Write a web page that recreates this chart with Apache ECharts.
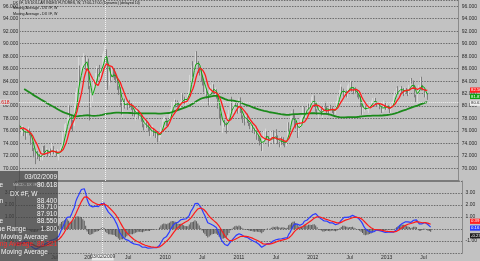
<!DOCTYPE html>
<html><head><meta charset="utf-8">
<script src="https://cdn.jsdelivr.net/npm/echarts@6/dist/echarts.min.js"></script>
<style>html,body{margin:0;padding:0;background:#c2c2c2;overflow:hidden}#c{width:480px;height:261px}</style>
</head><body><div id="c"></div>
<script>
// ---- data (weekly DX #F closes / highs / lows) ----
const historyCloses = [89.2,90.0,89.6,89.0,88.9,88.2,86.8,86.0,84.8,84.9,85.8,85.4,85.5,86.9,86.8,87.0,85.3,85.2,85.4,85.6,85.2,84.8,85.4,85.0,85.1,85.4,85.5,85.6,85.5,85.8,86.2,86.6,86.9,85.4,85.0,85.5,84.2,83.5,82.9,83.2,84.0,83.9,83.7,
84.8,84.8,84.9,84.6,84.0,84.6,84.2,83.7,83.8,83.5,83.3,83.2,82.8,82.4,81.9,81.8,81.5,81.4,81.8,81.9,82.2,82.6,82.8,82.2,81.8,81.8,81.3,80.7,80.5,80.6,80.7,81.6,81.2,81.1,80.8,79.9,79.1,78.6,78.0,78.2,78.8,77.6,77.5,76.5,75.9,76.2,75.3,75.7,76.2,76.5,77.5,77.4,76.7];

const closes = [
75.8,75.9,76.2,75.7,75.3,76.1,76.2,75.6,73.9,73.2,72.4,72.1,72.3,71.9,71.6,71.8,73.2,72.9,72.8,72.8,72.3,72.9,72.3,73.5,72.5,72.6,72.2,72.3,72.6,73.2,73.4,75.7,76.6,76.8,77.7,79.4,78.4,77.4,77.0,79.9,81.9,82.4,86.1,85.4,85.8,87.0,87.9,86.3,87.2,82.9,80.0,81.8,
82.3,84.1,84.3,85.6,85.5,85.2,85.9,87.6,88.4,88.55,87.5,83.7,85.0,84.6,85.3,85.1,84.6,84.3,82.9,82.6,80.6,79.5,80.9,80.0,80.3,80.1,80.4,80.3,79.6,78.9,78.6,78.9,78.9,78.3,78.3,77.8,76.8,76.6,77.1,77.0,76.4,75.6,75.6,76.3,75.9,75.4,75.4,74.9,75.1,76.5,77.8,77.9,
77.9,77.2,77.0,78.4,79.4,80.4,80.4,80.5,80.4,80.3,79.6,80.6,81.8,81.1,80.8,80.9,81.4,81.9,84.4,86.2,85.5,86.7,88.3,86.9,85.7,85.2,84.1,83.6,82.5,82.5,81.3,80.5,82.6,83.0,83.0,82.2,82.5,81.5,79.8,78.2,77.1,77.1,77.4,77.0,76.3,78.3,78.9,80.3,79.6,80.1,80.5,80.3,79.0,
80.9,79.2,78.2,77.8,77.7,78.5,77.5,77.1,76.6,76.9,75.9,75.8,76.0,74.9,74.8,74.1,72.9,74.6,75.6,75.6,75.0,73.6,74.6,75.2,75.5,74.3,75.3,75.1,74.1,73.7,74.7,74.6,74.0,73.8,74.4,77.2,76.6,78.2,78.6,78.5,77.0,76.8,75.2,77.1,77.2,78.1,79.9,78.5,78.8,80.2,80.0,80.2,
81.2,81.6,80.4,79.3,78.9,79.0,79.3,78.6,79.3,79.9,79.7,79.3,78.9,79.9,79.7,79.1,78.8,79.6,80.7,81.6,82.3,83.0,82.5,81.6,82.3,81.6,83.2,83.3,83.6,82.6,82.4,82.5,82.3,81.5,81.2,80.2,79.0,79.3,79.9,79.6,79.7,79.8,80.1,80.7,81.0,81.2,80.3,80.1,80.3,79.6,79.3,79.6,
80.5,79.6,80.0,79.8,79.1,80.2,80.5,81.5,82.2,82.7,82.4,82.6,83.0,82.5,82.1,82.6,82.4,82.0,83.3,84.2,83.8,83.2,81.6,80.9,82.3,83.2,84.3,83.2,82.7,81.7,81.9,81.2];

const highs = [
77.0,76.5,76.9,76.6,76.0,76.4,76.7,76.4,75.7,74.3,73.3,72.8,72.9,72.8,72.3,72.3,73.4,73.6,73.7,73.3,73.0,73.2,73.2,74.1,73.6,73.1,72.9,73.1,72.9,73.5,73.7,75.9,77.1,77.3,78.2,80.2,80.1,78.7,77.8,80.3,82.3,82.9,87.9,86.5,86.5,87.9,88.5,88.1,87.9,87.6,83.2,82.1,
82.5,84.5,85.3,86.4,86.1,86.6,86.0,88.4,88.8,89.71,89.1,87.8,85.7,86.2,86.1,86.0,86.0,85.3,84.6,83.2,83.0,81.1,81.0,81.2,81.0,80.7,80.8,81.0,80.6,79.8,79.4,79.3,79.8,79.4,79.1,78.8,78.0,77.1,77.6,77.8,77.2,76.6,76.0,76.9,76.5,76.1,75.7,75.6,75.5,76.6,77.9,78.2,
78.4,78.1,77.7,78.7,79.5,80.6,80.7,81.2,81.0,80.9,80.6,80.8,82.1,81.9,81.5,81.4,81.9,82.5,85.0,86.5,87.2,87.1,88.7,88.8,87.2,86.2,86.1,84.8,83.9,83.1,82.8,81.6,82.9,83.4,83.7,83.5,83.0,82.7,81.7,80.0,78.8,77.7,77.9,77.8,77.4,78.7,79.4,80.9,81.5,80.5,80.9,80.9,80.5,
81.2,81.4,79.3,78.5,78.3,78.6,78.8,77.8,77.3,77.2,77.0,76.4,76.4,76.1,75.3,75.0,74.2,74.8,76.0,76.4,76.0,75.2,74.9,76.0,75.9,76.1,75.7,76.3,75.3,74.3,75.2,75.1,75.0,74.3,74.6,77.4,77.4,78.9,79.2,79.5,78.7,77.6,77.1,77.5,78.2,78.5,80.0,79.8,79.3,80.5,80.4,80.6,
81.5,81.8,81.7,80.5,79.5,79.4,79.8,79.6,79.5,80.1,80.7,80.0,79.5,80.1,80.2,79.8,79.3,79.8,80.8,81.7,82.6,83.5,83.1,82.8,82.5,82.5,83.3,83.6,84.1,84.0,83.0,82.9,83.0,82.6,82.0,81.6,80.4,79.7,80.2,80.1,80.1,80.1,80.3,80.9,81.3,81.4,81.3,80.6,80.6,80.5,79.8,79.8,
80.9,80.7,80.5,80.1,80.0,80.4,80.8,81.7,82.4,82.9,83.2,83.0,83.1,83.2,82.9,83.0,82.9,82.6,83.4,84.4,84.5,84.1,83.4,81.8,82.4,83.4,84.6,84.7,83.4,82.7,82.2,82.0];

const lows = [
75.6,75.2,75.6,75.2,74.6,75.1,75.8,75.3,73.8,72.8,71.8,70.7,71.7,71.5,71.2,71.3,71.3,72.6,72.2,72.4,71.9,72.0,72.1,72.1,72.3,72.2,71.9,71.9,71.3,72.4,72.9,73.2,75.6,76.0,76.5,77.6,78.2,76.3,75.9,76.8,79.7,80.8,82.2,83.6,84.6,85.6,86.4,85.8,85.7,82.7,77.7,79.8,
80.7,81.8,83.3,83.9,84.0,84.7,84.3,85.9,86.7,87.91,86.9,82.6,83.3,83.8,84.2,84.6,84.2,83.7,82.6,81.8,80.1,78.6,78.3,79.6,79.8,79.4,79.8,79.7,79.4,78.4,78.3,77.7,78.5,77.9,77.9,77.5,76.6,76.1,76.3,76.5,75.9,75.2,75.0,75.3,75.2,74.9,74.9,74.2,74.4,75.0,76.2,77.5,
77.4,76.8,76.8,76.9,77.9,78.9,79.6,79.9,79.8,79.8,79.4,79.4,80.4,80.9,80.3,80.1,80.7,81.2,81.6,83.7,84.7,85.3,86.3,86.7,85.3,84.9,83.9,83.3,82.2,81.8,81.2,80.1,80.2,82.1,82.5,81.9,81.5,81.2,79.6,78.0,76.9,75.7,76.5,76.7,75.6,76.1,78.0,78.7,79.2,78.9,79.6,80.0,78.8,
78.9,78.9,77.9,77.3,76.9,77.5,77.3,76.8,76.3,76.2,75.7,75.5,75.4,74.6,74.4,73.7,72.8,72.7,74.2,75.2,74.7,73.5,73.5,74.3,74.0,74.1,74.0,74.6,73.9,73.4,73.4,73.8,73.7,73.4,73.6,74.3,75.9,76.4,77.9,78.0,76.8,76.4,74.9,75.1,76.6,76.9,77.9,78.1,78.1,78.6,79.5,79.8,
79.9,80.9,80.2,79.1,78.6,78.1,78.8,78.5,78.1,79.0,79.3,78.9,78.5,78.8,79.4,78.9,78.6,78.7,79.5,80.5,81.4,82.2,81.9,81.5,81.4,81.4,81.3,82.6,82.9,82.3,81.9,82.0,82.1,81.4,81.1,80.0,78.6,78.6,79.1,79.4,79.3,78.9,79.5,79.9,80.5,80.8,80.2,79.9,79.9,79.5,78.9,79.1,
79.1,79.4,79.3,79.5,78.9,78.9,79.9,80.4,81.4,81.9,82.1,82.0,82.3,82.1,81.6,81.9,82.0,81.6,81.8,83.0,83.6,82.9,81.4,80.5,80.7,82.2,82.9,82.5,82.5,81.4,81.4,81.0];

const xTickDates  = ['07/07/2008','12/29/2008','07/06/2009','01/04/2010','07/05/2010','01/03/2011','07/04/2011','01/02/2012','07/02/2012','12/31/2012','07/01/2013'];
const xTickLabels = ['Jul','2009','Jul','2010','Jul','2011','Jul','2012','Jul','2013','Jul'];
const priceTicks = {min: 68, max: 97, interval: 2};
const macdTicks = {min: -2, max: 4, interval: 1};
const cursorDate = '03/02/2009';
const cursorPrice = 80.618;
const infoRows = ['88.400','89.710','87.910','88.550','1.800','86.321'];
const maPeriods = {fast: 4, mid: 8, slow: 100};
const nSlots = 315;

// ---- build ----
const categories = [];
for (let i = 0; i < nSlots; i++) {
  const d = new Date(Date.UTC(2007, 11, 31 + 7 * i));
  const mm = String(d.getUTCMonth() + 1).padStart(2, '0');
  const dd = String(d.getUTCDate()).padStart(2, '0');
  categories.push(mm + '/' + dd + '/' + d.getUTCFullYear());
}
const tickMap = {};
xTickDates.forEach((d, i) => tickMap[d] = xTickLabels[i]);

const full = historyCloses.concat(closes);
const H = historyCloses.length;
const candle = closes.map((c, i) => {
  const o = i === 0 ? historyCloses[H - 1] : closes[i - 1];
  return [o, c, Math.min(lows[i], o, c), Math.max(highs[i], o, c)];
});
function sma(p) {
  return closes.map((_, i) => {
    const e = H + i, s = e - p + 1;
    if (s < 0) return null;
    let t = 0; for (let k = s; k <= e; k++) t += full[k];
    return +(t / p).toFixed(4);
  });
}
function emaArr(arr, p) {
  const a = 2 / (p + 1); const out = []; let v = arr[0];
  arr.forEach((x, i) => { v = i === 0 ? x : v + a * (x - v); out.push(v); });
  return out;
}
const maFast = sma(maPeriods.fast), maMid = sma(maPeriods.mid), maSlow = sma(maPeriods.slow);
const e12 = emaArr(full, 12), e26 = emaArr(full, 26);
const macdFull = full.map((_, i) => e12[i] - e26[i]);
const sigFull = emaArr(macdFull, 9);
const macd = closes.map((_, i) => +macdFull[H + i].toFixed(4));
const signal = closes.map((_, i) => +sigFull[H + i].toFixed(4));
const hist = closes.map((_, i) => +(macdFull[H + i] - sigFull[H + i]).toFixed(4));

const FONT = '"Liberation Sans", Arial, sans-serif';
const chart = echarts.init(document.getElementById('c'), null, {renderer: 'canvas'});
const grid = '#6c6c6c';
const cursorLine = {color: '#f2f2f2', type: [1, 1], width: 1};
const yBase = (gi, pos, t, fmt, showSplit) => ({
  type: 'value', gridIndex: gi, position: pos, min: t.min, max: t.max, interval: t.interval,
  axisLine: {show: true, lineStyle: {color: '#8a8a8a', width: 1}},
  axisTick: {show: false},
  axisLabel: {fontSize: 5, color: '#2a2a2a', margin: pos === 'left' ? 1 : 3, fontFamily: FONT,
    showMinLabel: false, showMaxLabel: false, formatter: fmt},
  splitLine: {show: showSplit, lineStyle: {color: grid, type: [1.5, 1.2], width: 1}}
});
const pFmt = v => v.toFixed(3);
const mFmt = v => v === 0 ? '' : v.toFixed(2);

chart.setOption({
  backgroundColor: '#c2c2c2',
  animation: false,
  textStyle: {fontFamily: FONT},
  grid: [{left: 10, right: 12, top: 0, height: 181}, {left: 10, right: 12, top: 181, height: 72}],
  xAxis: [
    {type: 'category', gridIndex: 0, data: categories, boundaryGap: true,
     axisLine: {show: true, onZero: false, lineStyle: {color: '#7a7a7a', width: 2}},
     axisTick: {show: false}, axisLabel: {show: false}, splitLine: {show: false}},
    {type: 'category', gridIndex: 1, data: categories, boundaryGap: true,
     axisLine: {show: false}, axisTick: {show: false}, splitLine: {show: false},
     axisLabel: {fontSize: 5, color: '#2a2a2a', margin: 2, fontFamily: FONT,
       interval: (i, v) => tickMap[v] !== undefined, formatter: v => tickMap[v] || ''}}
  ],
  yAxis: [
    yBase(0, 'right', priceTicks, pFmt, true),
    yBase(0, 'left', priceTicks, pFmt, false),
    yBase(1, 'right', macdTicks, mFmt, true),
    yBase(1, 'left', macdTicks, mFmt, false)
  ],
  series: [
    {type: 'candlestick', xAxisIndex: 0, yAxisIndex: 0, data: candle, barWidth: 1, z: 2,
     itemStyle: {color: '#ededed', color0: '#767676', borderColor: '#d8d8d8', borderColor0: '#7e7e7e', borderWidth: 1},
     markLine: {symbol: 'none', silent: true, label: {show: false}, lineStyle: cursorLine,
       data: [{xAxis: cursorDate}, {yAxis: cursorPrice}]}},
    {type: 'line', xAxisIndex: 0, yAxisIndex: 0, data: maSlow, showSymbol: false, symbol: 'none', z: 3,
     lineStyle: {color: '#1b8a1b', width: 1.8}},
    {type: 'line', xAxisIndex: 0, yAxisIndex: 0, data: maFast, showSymbol: false, symbol: 'none', z: 4,
     lineStyle: {color: '#10a810', width: 1}},
    {type: 'line', xAxisIndex: 0, yAxisIndex: 0, data: maMid, showSymbol: false, symbol: 'none', z: 5,
     lineStyle: {color: '#ff1c1c', width: 1.3}},
    {type: 'bar', xAxisIndex: 1, yAxisIndex: 2, data: hist, barWidth: 1, z: 2,
     itemStyle: {color: '#585858'},
     markLine: {symbol: 'none', silent: true, label: {show: false}, lineStyle: cursorLine, data: [{xAxis: cursorDate}]}},
    {type: 'line', xAxisIndex: 1, yAxisIndex: 2, data: macd, showSymbol: false, symbol: 'none', z: 4,
     lineStyle: {color: '#2b3cff', width: 1.2}},
    {type: 'line', xAxisIndex: 1, yAxisIndex: 2, data: signal, showSymbol: false, symbol: 'none', z: 5,
     lineStyle: {color: '#ff1a1a', width: 1.2}}
  ]
});

// ---- overlay texts / labels ----
const yP = v => chart.convertToPixel({yAxisIndex: 0}, v);
const yM = v => chart.convertToPixel({yAxisIndex: 2}, v);
const xC = chart.convertToPixel({xAxisIndex: 1}, cursorDate);
const last = a => a[a.length - 1];
const txt = (t, x, y, size, fill, align, weight) => ({type: 'text', z: 200, silent: true,
  style: {text: t, x: x, y: y, fill: fill, align: align || 'left', verticalAlign: 'middle',
    font: (weight || 'normal') + ' ' + size + 'px ' + FONT}});
const box = (x, y, w, h, fill) => ({type: 'rect', z: 199, silent: true, shape: {x: x, y: y, width: w, height: h}, style: {fill: fill}});
const tag = (val, y, bg, fg, dec) => [box(470, y - 2.6, 10, 5.2, bg), txt(val.toFixed(dec), 471, y, 4.3, fg)];

const g = [];
g.push(txt('DX #F, US DOLLAR INDEX FUTURES, W, 17:00-17:00 (Dynamic) (delayed 10)', 13, 3.2, 3.6, '#111'));
g.push(txt('Moving Average - DX #F, W', 13, 8.4, 3.6, '#111'));
g.push(txt('Moving Average - DX #F, W', 13, 13.6, 3.6, '#111'));
// right value tags
g.push(...tag(last(maMid), yP(last(maMid)), '#ff2020', '#fff', 3));
g.push(...tag(last(maFast), yP(last(maFast)) + 2, '#12a012', '#fff', 3));
g.push(...tag(cursorPrice, yP(cursorPrice) + 1, '#eeeeee', '#333', 3));
g.push(...tag(last(signal), yM(last(signal)) - 3, '#ff2020', '#fff', 2));
g.push(...tag(last(macd), yM(last(macd)) + 1, '#2b3cff', '#fff', 2));
g.push(...tag(last(hist), yM(last(hist)) + 4, '#222222', '#fff', 2));
// left crosshair price
g.push(box(0, yP(cursorPrice) - 2.8, 10, 5.6, '#d8d8d8'));
g.push(txt(cursorPrice.toFixed(3), 9.5, yP(cursorPrice), 5, '#e01010', 'right'));
// bottom cursor date
g.push(box(xC - 11, 253.5, 22, 7, '#e8e8e8'));
g.push(txt(cursorDate, xC, 257, 5, '#333', 'center'));
// data window
g.push(box(0, 171, 58, 90, 'rgba(62,62,62,0.72)'));
const W = '#f2f2f2';
g.push(txt('MACD - DX #F, W', 13, 184.5, 3.6, '#bdbdbd'));
g.push(txt(cursorDate, 57, 177, 6.5, W, 'right'));
g.push(txt('Value', 3, 185, 6.5, W, 'right'));
g.push(txt(cursorPrice.toFixed(3), 57, 185, 6.5, W, 'right'));
g.push(txt('DX #F, W', 10, 194, 6.5, W));
g.push(txt('Open', 3, 201, 6.5, W, 'right'));
g.push(txt(infoRows[0], 57, 201, 6.5, W, 'right'));
g.push(txt(infoRows[1], 57, 207.5, 6.5, W, 'right'));
g.push(txt(infoRows[2], 57, 214, 6.5, W, 'right'));
g.push(txt('Close', 3, 221, 6.5, W, 'right'));
g.push(txt(infoRows[3], 57, 221, 6.5, W, 'right'));
g.push(txt('True Range', 26, 229, 6.5, W, 'right'));
g.push(txt(infoRows[4], 57, 229, 6.5, W, 'right'));
g.push(txt('Moving Average', 1, 237, 6.5, W));
g.push(txt('Moving Average', 33, 244.5, 6.5, '#ff2a2a', 'right'));
g.push(txt(infoRows[5], 57, 244.5, 6.5, '#ff2a2a', 'right'));
g.push(txt('Moving Average', 1, 252, 6.5, W));
chart.setOption({graphic: g});
</script></body></html>
